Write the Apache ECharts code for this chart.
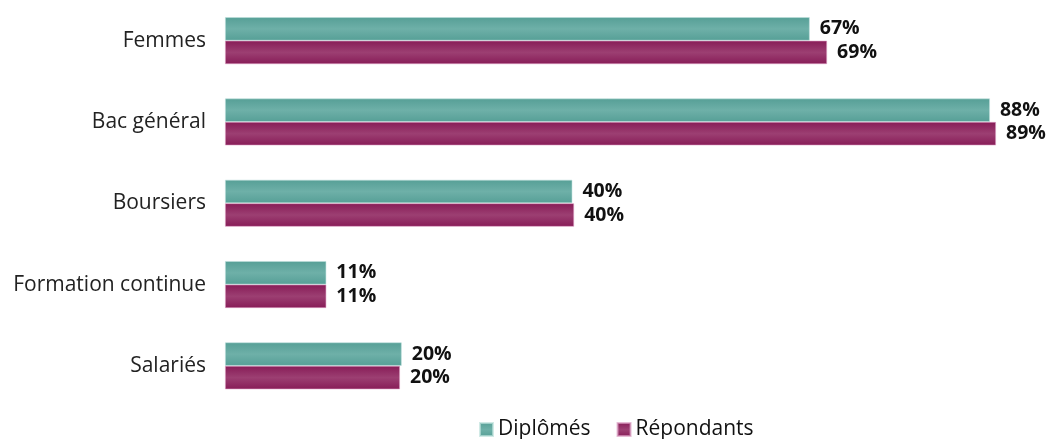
<!DOCTYPE html>
<html>
<head>
<meta charset="utf-8">
<script src="https://cdn.jsdelivr.net/npm/echarts@6/dist/echarts.min.js"></script>
<style>
  html, body { margin: 0; padding: 0; background: #fff; }
  #chart { width: 1048px; height: 439px; }
</style>
</head>
<body>
<div id="chart"></div>
<script>
// Categories, top to bottom
const categories = ["Femmes", "Bac général", "Boursiers", "Formation continue", "Salariés"];

// Values (percent)
const diplomes = [67.5, 88.3, 40.1, 11.7, 20.4];
const repondants = [69.5, 89.0, 40.3, 11.7, 20.2];

// Labels as printed on the chart
const diplomesLabels = ["67%", "88%", "40%", "11%", "20%"];
const repondantsLabels = ["69%", "89%", "40%", "11%", "20%"];

const seriesNames = ["Diplômés", "Répondants"];

const FONT = 'Open Sans';

// Bars are shaded lighter in the middle
function shade(edge, mid) {
    return new echarts.graphic.LinearGradient(0, 0, 0, 1, [
        { offset: 0, color: edge },
        { offset: 0.5, color: mid },
        { offset: 1, color: edge }
    ]);
}

const chart = echarts.init(document.getElementById('chart'));

const labelStyle = labels => ({
    show: true,
    position: 'right',
    distance: 10,
    fontFamily: FONT,
    fontWeight: 'bold',
    fontSize: 19.5,
    color: '#111',
    formatter: p => labels[p.dataIndex]
});

const option = {
    animation: false,
    textStyle: { fontFamily: FONT },
    grid: { left: 225, right: 0, top: 0, bottom: 32.5, containLabel: false },
    legend: {
        data: seriesNames,
        left: 474,
        bottom: -6,
        icon: 'rect',
        itemWidth: 13,
        itemHeight: 13,
        itemGap: 26,
        textStyle: { fontFamily: FONT, fontSize: 21, color: '#111', padding: [0, 0, 0, 0] }
    },
    xAxis: {
        type: 'value',
        min: 0,
        max: 95,
        show: false,
        splitLine: { show: false }
    },
    yAxis: {
        type: 'category',
        data: categories,
        inverse: true,
        axisLine: { show: false },
        axisTick: { show: false },
        axisLabel: { margin: 19, fontSize: 21, color: '#222', fontFamily: FONT }
    },
    series: [
        {
            name: seriesNames[0],
            type: 'bar',
            data: diplomes,
            barWidth: 23.5,
            barGap: '0%',
            itemStyle: {
                color: shade('#569f96', '#6eb0a8'),
                borderColor: 'rgba(190,225,220,0.7)',
                borderWidth: 0.8
            },
            label: labelStyle(diplomesLabels)
        },
        {
            name: seriesNames[1],
            type: 'bar',
            data: repondants,
            barWidth: 23.5,
            barGap: '0%',
            itemStyle: {
                color: shade('#871c57', '#9c3f72'),
                borderColor: 'rgba(220,160,195,0.7)',
                borderWidth: 0.8
            },
            label: labelStyle(repondantsLabels)
        }
    ]
};

chart.setOption(option);
</script>
</body>
</html>
